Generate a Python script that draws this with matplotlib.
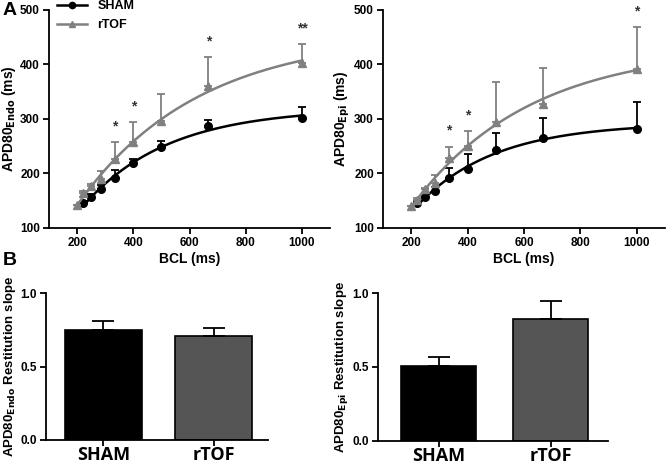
import numpy as np
import matplotlib
matplotlib.use("Agg")
import matplotlib.pyplot as plt

plt.rcParams['font.family'] = ['Liberation Sans', 'DejaVu Sans']
plt.rcParams['font.weight'] = 'bold'

# --- data ---
bcl_sham = [222, 250, 286, 333, 400, 500, 667, 1000]
bcl_rtof = [200, 222, 250, 286, 333, 400, 500, 667, 1000]

endo_sham = [145, 156, 171, 192, 219, 249, 286, 302]
endo_sham_top = [150, 162, 178, 206, 227, 260, 298, 321]
endo_rtof = [142, 164, 176, 189, 226, 258, 296, 360, 403]
endo_rtof_top = [142, 168, 180, 205, 257, 294, 345, 413, 438]
endo_stars_x = [333, 400, 667, 1000]
endo_stars_y = [286, 323, 442, 466]
endo_stars = ['*', '*', '*', '**']

epi_sham = [145, 156, 167, 191, 208, 243, 264, 281]
epi_sham_top = [149, 160, 175, 209, 235, 274, 301, 330]
epi_rtof = [141, 151, 171, 183, 228, 250, 295, 328, 392]
epi_rtof_top = [141, 155, 174, 197, 249, 277, 367, 393, 468]
epi_stars_x = [333, 400, 1000]
epi_stars_y = [279, 307, 496]
epi_stars = ['*', '*', '*']

groups = ['SHAM', 'rTOF']
slope_endo = [0.75, 0.71]
slope_endo_top = [0.81, 0.76]
slope_epi = [0.505, 0.825]
slope_epi_top = [0.57, 0.95]

c_sham = 'black'
c_rtof = '#808080'
c_bar2 = '#555555'


def exp_fit(x, y):
    # y = a + b*exp(-x/tau), tau by grid search, a and b by least squares
    x = np.asarray(x, float)
    y = np.asarray(y, float)
    best = None
    for tau in np.linspace(50, 5000, 2000):
        A = np.column_stack([np.ones_like(x), np.exp(-x / tau)])
        coef, res, *_ = np.linalg.lstsq(A, y, rcond=None)
        sse = np.sum((A @ coef - y) ** 2)
        if best is None or sse < best[0]:
            best = (sse, tau, coef)
    _, tau, (a, b) = best
    return lambda t: a + b * np.exp(-t / tau)


def style(ax, size=8.5):
    for s in ['top', 'right']:
        ax.spines[s].set_visible(False)
    for s in ['left', 'bottom']:
        ax.spines[s].set_linewidth(1.3)
    ax.tick_params(width=1.3, length=4, labelsize=size, pad=2.5)
    for lab in ax.get_xticklabels() + ax.get_yticklabels():
        lab.set_fontweight('bold')


def curve_panel(ax, sham, sham_top, rtof, rtof_top, sx, sy, stars, ylab):
    for bcl, y, top, c, m in [(bcl_sham, sham, sham_top, c_sham, 'o'),
                              (bcl_rtof, rtof, rtof_top, c_rtof, '^')]:
        y = np.array(y)
        up = np.array(top) - y
        ax.errorbar(bcl, y, yerr=[np.zeros_like(up), up], fmt='none',
                    ecolor=c, elinewidth=1.3, capsize=3, capthick=1.3)
        ax.plot(bcl, y, m, color=c, ms=5.5, ls='none')
        f = exp_fit(bcl, y)
        xs = np.linspace(min(bcl), 1000, 200)
        ax.plot(xs, f(xs), color=c, lw=1.8)
    for x, y, t in zip(sx, sy, stars):
        ax.text(x, y, t, ha='center', va='center', fontsize=10, color='#333333')
    ax.set_xlim(100, 1100)
    ax.set_ylim(100, 500)
    ax.set_xticks([200, 400, 600, 800, 1000])
    ax.set_yticks([100, 200, 300, 400, 500])
    ax.set_xlabel('BCL (ms)', fontsize=10, fontweight='bold', labelpad=2)
    ax.set_ylabel(ylab, fontsize=10, fontweight='bold', labelpad=1.5)
    style(ax)


def bar_panel(ax, vals, tops, ylab, xlim, w):
    x = np.arange(len(groups))
    ax.bar(x, vals, width=w, color=[c_sham, c_bar2], edgecolor='black', lw=1.2)
    up = np.array(tops) - np.array(vals)
    ax.errorbar(x, vals, yerr=[np.zeros_like(up), up], fmt='none',
                ecolor='black', elinewidth=1.3, capsize=8, capthick=1.3)
    ax.set_xlim(*xlim)
    ax.set_ylim(0, 1.0)
    ax.set_yticks([0.0, 0.5, 1.0])
    ax.set_xticks(x)
    ax.set_xticklabels(groups)
    ax.set_ylabel(ylab, fontsize=9.5, fontweight='bold', labelpad=2)
    style(ax)
    ax.tick_params(axis='x', pad=0.5)
    for lab in ax.get_xticklabels():
        lab.set_fontsize(13)
        lab.set_family('Open Sans')
        lab.set_fontweight('bold')


fig = plt.figure(figsize=(6.66, 4.66), dpi=100)
ax1 = fig.add_axes([0.0736, 0.511, 0.422, 0.468])
ax2 = fig.add_axes([0.575, 0.511, 0.4235, 0.468])
ax3 = fig.add_axes([0.069, 0.056, 0.333, 0.315])
ax4 = fig.add_axes([0.5676, 0.054, 0.345, 0.317])

curve_panel(ax1, endo_sham, endo_sham_top, endo_rtof, endo_rtof_top,
            endo_stars_x, endo_stars_y, endo_stars, r'APD80$_{\mathbf{Endo}}$ (ms)')
curve_panel(ax2, epi_sham, epi_sham_top, epi_rtof, epi_rtof_top,
            epi_stars_x, epi_stars_y, epi_stars, r'APD80$_{\mathbf{Epi}}$ (ms)')
bar_panel(ax3, slope_endo, slope_endo_top,
          r'APD80$_{\mathbf{Endo}}$ Restitution slope', (-0.52, 1.49), 0.70)
bar_panel(ax4, slope_epi, slope_epi_top,
          r'APD80$_{\mathbf{Epi}}$ Restitution slope', (-0.54, 1.51), 0.67)

h1, = ax1.plot([], [], 'o-', color=c_sham, ms=4.5, lw=1.8)
h2, = ax1.plot([], [], '^-', color=c_rtof, ms=4.5, lw=1.8)
fig.legend([h1, h2], ['SHAM', 'rTOF'], loc='upper left', bbox_to_anchor=(0.075, 1.016),
           frameon=False, fontsize=9, handlelength=2.4, handletextpad=0.8,
           labelspacing=0.55, borderaxespad=0.2)

fig.text(0.004, 0.978, 'A', fontsize=14, fontweight='bold', va='center')
fig.text(0.004, 0.442, 'B', fontsize=14, fontweight='bold', va='center')

fig.savefig('out.png', dpi=100)
